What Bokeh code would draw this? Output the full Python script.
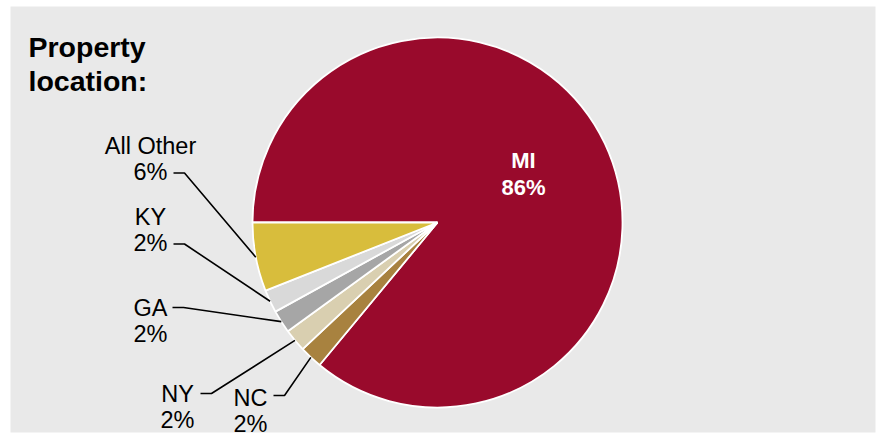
import math
from bokeh.plotting import figure
from bokeh.models import Range1d, ColumnDataSource
from bokeh.core.properties import value
from bokeh.embed import file_html
from bokeh.resources import INLINE

# ---- data ----
categories = ["MI", "NC", "NY", "GA", "KY", "All Other"]
shares = [86, 2, 2, 2, 2, 6]
colors = ["#990a2c", "#a8823f", "#d9cfb0", "#a6a6a6", "#d9d9d9", "#d8bd3c"]
title_lines = ["Property", "location:"]

# ---- layout (pixel space, y measured from top then flipped) ----
W, H = 877, 435
CX, CY, R = 437, 222, 185
FONT = "Liberation Sans"

p = figure(width=W, height=H, output_backend="svg", toolbar_location=None,
           x_axis_location=None, y_axis_location=None, min_border=0,
           x_range=Range1d(0, W), y_range=Range1d(0, H))
p.grid.visible = False
p.outline_line_color = None
p.background_fill_color = "white"
p.border_fill_color = "white"

def fy(y):
    return H - y

# panel background
p.quad(left=[10], right=[875], top=[fy(6)], bottom=[fy(432)],
       fill_color="#e9e9e9", line_color=None)

# wedges: MI starts at 180 deg going clockwise
total = sum(shares)
start = math.pi
starts, ends, mids = [], [], []
for s in shares:
    sweep = 2 * math.pi * s / total
    end = start - sweep
    starts.append(end)
    ends.append(start)
    mids.append((start + end) / 2)
    start = end

src = ColumnDataSource(dict(x=[CX] * len(shares), y=[fy(CY)] * len(shares),
                            start=starts, end=ends, color=colors))
p.wedge(x="x", y="y", radius=R, start_angle="start", end_angle="end",
        fill_color="color", line_color="white", line_width=1.8, source=src)

# title
p.text(x=[28, 28], y=[fy(46), fy(80)], text=title_lines,
       text_font=value(FONT), text_font_style="bold", text_font_size="28.5px",
       text_color="black", text_align="left", text_baseline="alphabetic")

# MI label
p.text(x=[523, 523], y=[fy(160), fy(187)],
       text=[categories[0], f"{shares[0]}%"],
       text_font=value(FONT), text_font_style="bold", text_font_size="22px",
       text_color="white", text_align="center", text_baseline="alphabetic")

# outside labels: (center x, first baseline, line start x, line y)
label_layout = {
    "All Other": (150, 145, 173, 172.5),
    "KY": (150, 216, 173, 243.5),
    "GA": (150, 307, 172, 307),
    "NY": (177, 393, 200, 393),
    "NC": (250, 397, 273, 395),
}
for i, cat in enumerate(categories):
    if cat not in label_layout:
        continue
    lx, by, sx, sy = label_layout[cat]
    p.text(x=[lx, lx], y=[fy(by), fy(by + 26.5)], text=[cat, f"{shares[i]}%"],
           text_font=value(FONT), text_font_size="23.5px", text_color="black",
           text_align="center", text_baseline="alphabetic")
    ex = CX + R * math.cos(mids[i])
    ey = fy(CY) + R * math.sin(mids[i])
    p.line(x=[sx, sx + 11, ex], y=[fy(sy), fy(sy), ey],
           line_color="black", line_width=1.6)

open("out.html", "w").write(file_html(p, INLINE))
